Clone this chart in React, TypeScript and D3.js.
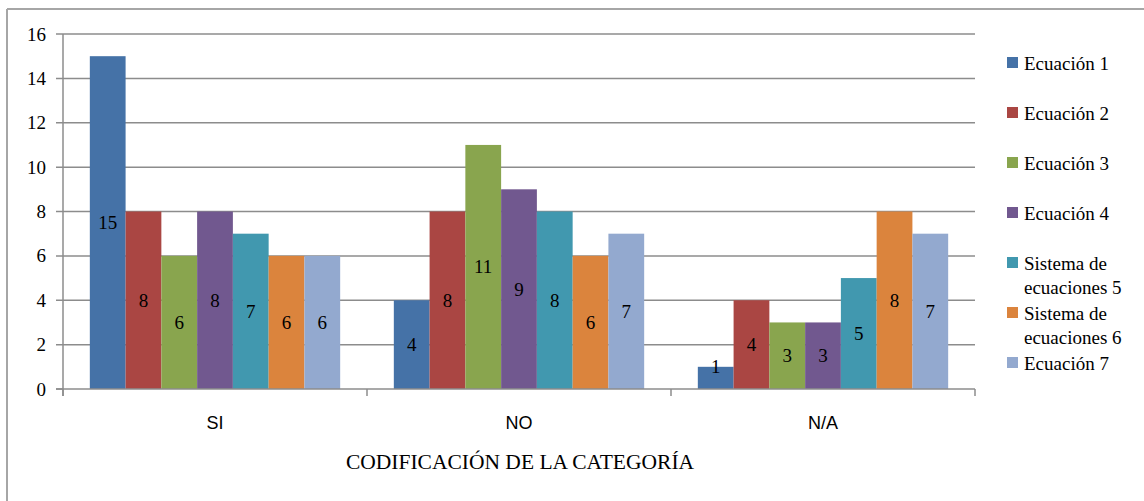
import React from "react";
import * as d3 from "d3";

const categories = ["SI", "NO", "N/A"];
const seriesNames = [
  ["Ecuación 1"],
  ["Ecuación 2"],
  ["Ecuación 3"],
  ["Ecuación 4"],
  ["Sistema de", "ecuaciones 5"],
  ["Sistema de", "ecuaciones 6"],
  ["Ecuación 7"],
];
const seriesColors = ["#4572A7", "#AA4643", "#89A54E", "#71588F", "#4198AF", "#DB843D", "#93A9CF"];
// values[series][category]
const values = [
  [15, 4, 1],
  [8, 8, 4],
  [6, 11, 3],
  [8, 9, 3],
  [7, 8, 5],
  [6, 6, 8],
  [6, 7, 7],
];
const yTicks = [0, 2, 4, 6, 8, 10, 12, 14, 16];
const axisTitle = "CODIFICACIÓN DE LA CATEGORÍA";

const W = 1144;
const H = 501;
const plot = { left: 63, right: 975, top: 34, bottom: 389 };
const serif = "'Liberation Serif', 'Times New Roman', serif";
const sans = "'Liberation Sans', Arial, sans-serif";
const gridColor = "#8c8c8c";

export default function App() {
  const y = d3.scaleLinear().domain([0, 16]).range([plot.bottom, plot.top]);
  const x0 = d3.scaleBand<string>().domain(categories).range([plot.left, plot.right]).paddingInner(0).paddingOuter(0);
  const x1 = d3
    .scaleBand<number>()
    .domain(d3.range(seriesNames.length))
    .range([0, x0.bandwidth()])
    .paddingInner(0)
    .paddingOuter(0.75);

  const boundaries = [plot.left, ...categories.map((c) => (x0(c) as number) + x0.bandwidth())];

  return (
    <svg width={W} height={H} style={{ position: "absolute", left: 0, top: 0, background: "#fff" }}>
      {/* frame */}
      <line x1={7} y1={9} x2={W} y2={9} stroke="#a6a6a6" strokeWidth={2} />
      <line x1={7} y1={9} x2={7} y2={H} stroke="#a6a6a6" strokeWidth={2} />

      {/* gridlines + y ticks */}
      {yTicks.map((t) => (
        <g key={t}>
          {t > 0 && (
            <line x1={plot.left - 7} x2={plot.right} y1={y(t)} y2={y(t)} stroke={gridColor} strokeWidth={1.5} />
          )}
          {t === 0 && <line x1={plot.left - 7} x2={plot.left} y1={y(t)} y2={y(t)} stroke={gridColor} strokeWidth={1.5} />}
          <text
            x={plot.left - 17}
            y={y(t)}
            textAnchor="end"
            dominantBaseline="central"
            fontFamily={serif}
            fontSize={19}
            fill="#000"
          >
            {t}
          </text>
        </g>
      ))}

      {/* bars */}
      {values.map((vals, si) =>
        vals.map((v, ci) => {
          const bx = (x0(categories[ci]) as number) + (x1(si) as number);
          const bw = x1.bandwidth();
          const top = y(v);
          const mid = (top + y(0)) / 2;
          const ly = Math.min(mid, y(0) - 23);
          return (
            <g key={`${si}-${ci}`}>
              <rect x={bx} y={top} width={bw} height={y(0) - top} fill={seriesColors[si]} />
              <text
                x={bx + bw / 2}
                y={ly}
                textAnchor="middle"
                dominantBaseline="central"
                fontFamily={serif}
                fontSize={19}
                fill="#000"
              >
                {v}
              </text>
            </g>
          );
        })
      )}

      {/* axes */}
      <line x1={plot.left} x2={plot.left} y1={plot.top} y2={plot.bottom + 7} stroke={gridColor} strokeWidth={1.5} />
      <line x1={plot.left - 7} x2={plot.right} y1={plot.bottom} y2={plot.bottom} stroke={gridColor} strokeWidth={1.5} />
      {boundaries.map((bx, i) => (
        <line key={i} x1={bx} x2={bx} y1={plot.bottom} y2={plot.bottom + 7} stroke={gridColor} strokeWidth={1.5} />
      ))}
      {categories.map((c) => (
        <text
          key={c}
          x={(x0(c) as number) + x0.bandwidth() / 2}
          y={423}
          textAnchor="middle"
          dominantBaseline="central"
          fontFamily={sans}
          fontSize={18}
          fill="#000"
        >
          {c}
        </text>
      ))}
      <text
        x={520}
        y={462}
        textAnchor="middle"
        dominantBaseline="central"
        fontFamily={serif}
        fontSize={21.5}
        fill="#000"
      >
        {axisTitle}
      </text>

      {/* legend */}
      {seriesNames.map((lines, i) => {
        const cy = 63 + i * 50;
        return (
          <g key={i}>
            <rect x={1007} y={cy - 6} width={11} height={11} fill={seriesColors[i]} />
            {lines.map((ln, li) => (
              <text
                key={li}
                x={1024}
                y={cy + li * 24}
                dominantBaseline="central"
                fontFamily={serif}
                fontSize={19}
                fill="#000"
              >
                {ln}
              </text>
            ))}
          </g>
        );
      })}
    </svg>
  );
}
